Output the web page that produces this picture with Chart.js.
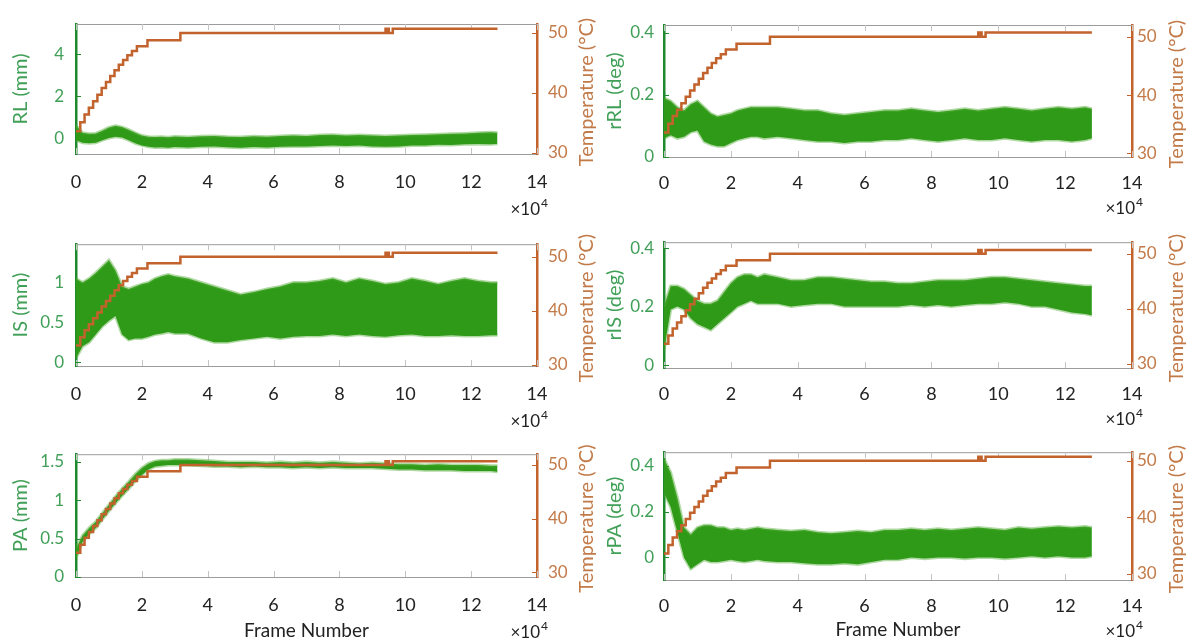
<!DOCTYPE html>
<html lang="en">
<head>
<meta charset="utf-8">
<title>Frame Number</title>
<script src="https://cdn.jsdelivr.net/npm/chart.js@4.4.1/dist/chart.umd.min.js"></script>
<style>
  html, body { margin: 0; padding: 0; background: #fff; }
  #lienzo { position: relative; width: 1192px; height: 642px; overflow: hidden; background: #fff; }
  .panel { position: absolute; }
</style>
</head>
<body>
<div id="lienzo"></div>
<script>
// ============================================================
//  Seis paneles: desplazamientos/rotaciones (verde, eje izq.)
//  contra la temperatura escalonada (naranja, eje der.).
//  Eje x en frames ×10^4.
// ============================================================

// --- Muestras del eje x (×10^4 frames) ---
const FRAMES = [
    0, 0.2, 0.4, 0.6, 0.8, 1.0, 1.2, 1.4, 1.6, 1.8,
    2.0, 2.2, 2.4, 2.6, 2.8, 3.0, 3.4, 3.8, 4.2, 4.6,
    5.0, 5.4, 5.8, 6.2, 6.6, 7.0, 7.4, 7.8, 8.2, 8.6,
    9.0, 9.4, 9.8, 10.2, 10.6, 11.0, 11.4, 11.8, 12.2, 12.6,
    12.8,
];

// --- Envolventes de cada señal (máximo / mínimo de la banda) ---
const RL_SUP = [
    0.60, 0.25, 0.20, 0.22, 0.35, 0.50, 0.58, 0.52, 0.40, 0.25,
    0.12, 0.06, 0.05, 0.06, 0.04, 0.07, 0.05, 0.08, 0.10, 0.06,
    0.05, 0.08, 0.06, 0.10, 0.12, 0.10, 0.14, 0.16, 0.12, 0.15,
    0.12, 0.10, 0.12, 0.15, 0.16, 0.18, 0.20, 0.22, 0.25, 0.28,
    0.25,
];
const RL_INF = [
    -0.10, -0.22, -0.25, -0.22, -0.10, 0.00, 0.06, 0.02, -0.10, -0.25,
    -0.35, -0.42, -0.45, -0.44, -0.46, -0.43, -0.45, -0.42, -0.40, -0.44,
    -0.46, -0.43, -0.45, -0.42, -0.40, -0.40, -0.38, -0.36, -0.38, -0.36,
    -0.40, -0.42, -0.40, -0.36, -0.35, -0.32, -0.33, -0.30, -0.28, -0.30,
    -0.27,
];

const RRL_SUP = [
    0.19, 0.18, 0.16, 0.15, 0.17, 0.18, 0.16, 0.14, 0.13, 0.135,
    0.14, 0.15, 0.155, 0.16, 0.16, 0.16, 0.16, 0.155, 0.15, 0.15,
    0.14, 0.135, 0.14, 0.145, 0.15, 0.15, 0.155, 0.15, 0.145, 0.15,
    0.155, 0.15, 0.155, 0.16, 0.155, 0.15, 0.155, 0.16, 0.155, 0.16,
    0.155,
];
const RRL_INF = [
    0.06, 0.07, 0.06, 0.065, 0.08, 0.085, 0.05, 0.04, 0.035, 0.035,
    0.045, 0.055, 0.06, 0.065, 0.065, 0.06, 0.065, 0.06, 0.055, 0.05,
    0.05, 0.045, 0.05, 0.05, 0.055, 0.055, 0.06, 0.055, 0.05, 0.055,
    0.06, 0.055, 0.055, 0.06, 0.055, 0.05, 0.055, 0.055, 0.05, 0.055,
    0.06,
];

const IS_SUP = [
    1.05, 1.00, 1.05, 1.12, 1.20, 1.28, 1.15, 0.95, 0.92, 0.95,
    0.98, 1.00, 1.05, 1.08, 1.10, 1.08, 1.05, 1.00, 0.95, 0.90,
    0.85, 0.88, 0.92, 0.95, 1.00, 1.00, 1.02, 1.05, 1.00, 1.05,
    1.02, 0.98, 1.00, 1.05, 1.02, 0.98, 1.02, 1.05, 1.02, 1.00,
    1.00,
];
const IS_INF = [
    0.05, 0.20, 0.25, 0.35, 0.45, 0.52, 0.58, 0.35, 0.28, 0.30,
    0.30, 0.32, 0.35, 0.36, 0.38, 0.36, 0.36, 0.30, 0.25, 0.25,
    0.28, 0.30, 0.32, 0.30, 0.32, 0.33, 0.33, 0.35, 0.33, 0.35,
    0.33, 0.32, 0.34, 0.35, 0.33, 0.33, 0.34, 0.33, 0.33, 0.34,
    0.34,
];

const RIS_SUP = [
    0.20, 0.27, 0.27, 0.26, 0.24, 0.22, 0.21, 0.21, 0.22, 0.25,
    0.28, 0.30, 0.31, 0.31, 0.30, 0.31, 0.30, 0.29, 0.29, 0.30,
    0.30, 0.295, 0.29, 0.285, 0.285, 0.28, 0.28, 0.285, 0.29, 0.29,
    0.29, 0.295, 0.30, 0.30, 0.295, 0.29, 0.285, 0.28, 0.275, 0.27,
    0.27,
];
const RIS_INF = [
    0.05, 0.19, 0.20, 0.19, 0.16, 0.14, 0.13, 0.12, 0.14, 0.16,
    0.18, 0.20, 0.21, 0.22, 0.21, 0.21, 0.21, 0.20, 0.205, 0.21,
    0.21, 0.20, 0.20, 0.20, 0.20, 0.20, 0.205, 0.20, 0.205, 0.20,
    0.205, 0.21, 0.21, 0.215, 0.21, 0.20, 0.20, 0.19, 0.18, 0.175,
    0.17,
];

const PA_SUP = [
    0.37, 0.54, 0.64, 0.72, 0.83, 0.94, 1.05, 1.15, 1.24, 1.34,
    1.42, 1.48, 1.51, 1.52, 1.52, 1.53, 1.53, 1.52, 1.51, 1.50,
    1.50, 1.50, 1.49, 1.50, 1.49, 1.50, 1.49, 1.50, 1.49, 1.48,
    1.49, 1.48, 1.47, 1.47, 1.46, 1.47, 1.46, 1.46, 1.46, 1.45,
    1.45,
];
const PA_INF = [
    0.25, 0.46, 0.56, 0.64, 0.75, 0.86, 0.96, 1.06, 1.15, 1.25,
    1.33, 1.40, 1.44, 1.45, 1.46, 1.46, 1.46, 1.45, 1.44, 1.44,
    1.43, 1.44, 1.43, 1.43, 1.42, 1.43, 1.42, 1.43, 1.42, 1.42,
    1.42, 1.41, 1.40, 1.40, 1.39, 1.39, 1.39, 1.38, 1.38, 1.38,
    1.37,
];

const RPA_SUP = [
    0.43, 0.37, 0.26, 0.13, 0.10, 0.13, 0.14, 0.14, 0.13, 0.13,
    0.12, 0.125, 0.12, 0.125, 0.13, 0.125, 0.12, 0.115, 0.12, 0.11,
    0.105, 0.11, 0.115, 0.11, 0.12, 0.12, 0.125, 0.12, 0.125, 0.12,
    0.125, 0.13, 0.125, 0.12, 0.13, 0.125, 0.13, 0.135, 0.13, 0.135,
    0.13,
];
const RPA_INF = [
    0.28, 0.22, 0.11, 0.00, -0.05, -0.03, -0.01, -0.02, -0.02, -0.015,
    -0.01, -0.015, -0.02, -0.015, -0.01, -0.015, -0.02, -0.02, -0.025, -0.03,
    -0.03, -0.025, -0.03, -0.02, -0.01, -0.01, 0.00, -0.005, 0.00, 0.00,
    -0.005, 0.00, 0.00, -0.005, 0.00, 0.005, 0.00, 0.005, 0.00, 0.00,
    0.005,
];

// --- Temperatura (escalones; mismo registro en los seis paneles) ---
const TEMP_FRAMES = [0, 0.13, 0.26, 0.39, 0.52, 0.65, 0.78, 0.91, 1.04, 1.17, 1.30, 1.43, 1.56, 1.70, 1.85, 2.17, 3.17, 9.40, 9.42, 9.48, 9.50, 9.62, 12.8];
const TEMP_C      = [33.6, 35.1, 36.4, 37.5, 38.6, 39.7, 40.8, 41.8, 42.8, 43.8, 44.7, 45.5, 46.3, 47.0, 47.8, 48.8, 50.0, 50.7, 50.0, 50.7, 50.0, 50.7, 50.7];

// --- Marcas de los ejes ---
const X_TICKS    = [0, 2, 4, 6, 8, 10, 12, 14];
const TEMP_TICKS = [30, 40, 50];
const RL_TICKS   = [0, 2, 4];
const DEG_TICKS  = [0, 0.2, 0.4];
const IS_TICKS   = [0, 0.5, 1];
const PA_TICKS   = [0, 0.5, 1, 1.5];

const VERDE_SENAL = '#2e9a18';
const VERDE_BORDE = 'rgba(80,170,50,0.45)';
const VERDE_EJE   = '#1f8a2c';
const VERDE_TEXTO = '#41a058';
const NARANJA     = '#c2622c';
const NARANJA_TXT = '#c27a48';
const GRIS        = '#9c9c9c';
const FUENTE      = 'Lato, "Open Sans", sans-serif';

Chart.defaults.font.family = FUENTE;

// Geometría de columnas y filas (px de la página)
const COLUMNAS = [
    { left: 0,   width: 600, plotL: 76,  plotR: 537,  padTitIzq: 9, distTitDer: 50, padTickIzq: 12, padTickDer: 11, padX: 17, despExp: 56 },
    { left: 596, width: 596, plotL: 664, plotR: 1132, padTitIzq: 7, distTitDer: 45, padTickIzq: 10, padTickDer: 5,  padX: 15, despExp: 52 },
];
const FILAS = [
    { top: 0,   height: 222, plotT: [24, 25],   plotB: [154, 157] },
    { top: 222, height: 210, plotT: [234, 237], plotB: [366, 368] },
    { top: 432, height: 210, plotT: [445, 448], plotB: [577, 580] },
];

const PANELES = [
    { fila: 0, col: 0, titulo: 'RL (mm)',   sup: RL_SUP,  inf: RL_INF,  ticks: RL_TICKS,  yMin: -0.76, yMax: 5.43,  tMin: 29.8, tMax: 51.5 },
    { fila: 0, col: 1, titulo: 'rRL (deg)', sup: RRL_SUP, inf: RRL_INF, ticks: DEG_TICKS, yMin: 0,     yMax: 0.425, tMin: 29.4, tMax: 52.0 },
    { fila: 1, col: 0, titulo: 'IS (mm)',   sup: IS_SUP,  inf: IS_INF,  ticks: IS_TICKS,  yMin: -0.046, yMax: 1.48, tMin: 29.8, tMax: 52.3 },
    { fila: 1, col: 1, titulo: 'rIS (deg)', sup: RIS_SUP, inf: RIS_INF, ticks: DEG_TICKS, yMin: -0.01, yMax: 0.42,  tMin: 29.2, tMax: 52.1 },
    { fila: 2, col: 0, titulo: 'PA (mm)',   sup: PA_SUP,  inf: PA_INF,  ticks: PA_TICKS,  yMin: 0,     yMax: 1.6,   tMin: 29.1, tMax: 52.0 },
    { fila: 2, col: 1, titulo: 'rPA (deg)', sup: RPA_SUP, inf: RPA_INF, ticks: DEG_TICKS, yMin: -0.098, yMax: 0.458, tMin: 28.9, tMax: 51.5 },
];

const puntos = (xs, ys) => xs.map((x, i) => ({ x, y: ys[i] }));
const fijarTicks = (valores) => (s) => { s.ticks = valores.map(v => ({ value: v })); };

// Marco superior, marcas hacia dentro, título del eje derecho (girado
// hacia arriba, como el izquierdo), "×10^4" y "Frame Number"
const marcoPanel = {
    id: 'marcoPanel',
    beforeDatasetsDraw(chart, args, opts) {
        const { ctx, chartArea: a, scales } = chart;
        ctx.save();
        ctx.lineWidth = 1;
        ctx.strokeStyle = GRIS;
        ctx.beginPath();
        ctx.moveTo(a.left, a.top + 0.5);
        ctx.lineTo(a.right, a.top + 0.5);
        ctx.stroke();

        ctx.strokeStyle = '#c4c4c4';
        X_TICKS.forEach(v => {
            const px = Math.round(scales.x.getPixelForValue(v)) + 0.5;
            ctx.beginPath();
            ctx.moveTo(px, a.bottom); ctx.lineTo(px, a.bottom - 6);
            ctx.moveTo(px, a.top);    ctx.lineTo(px, a.top + 6);
            ctx.stroke();
        });

        ctx.strokeStyle = VERDE_EJE;
        opts.ticksIzq.forEach(v => {
            const py = Math.round(scales.y.getPixelForValue(v)) + 0.5;
            ctx.beginPath(); ctx.moveTo(a.left, py); ctx.lineTo(a.left + 5, py); ctx.stroke();
        });
        ctx.strokeStyle = NARANJA;
        TEMP_TICKS.forEach(v => {
            const py = Math.round(scales.yT.getPixelForValue(v)) + 0.5;
            ctx.beginPath(); ctx.moveTo(a.right, py); ctx.lineTo(a.right - 5, py); ctx.stroke();
        });
        ctx.restore();
    },
    afterDraw(chart, args, opts) {
        const { ctx, chartArea: a } = chart;
        ctx.save();

        // Título del eje de temperatura
        ctx.save();
        ctx.translate(a.right + opts.distTitDer, (a.top + a.bottom) / 2 + 3);
        ctx.rotate(-Math.PI / 2);
        ctx.fillStyle = NARANJA_TXT;
        ctx.font = `20px ${FUENTE}`;
        ctx.textAlign = 'center';
        ctx.textBaseline = 'middle';
        ctx.fillText('Temperature (°C)', 0, 0);
        ctx.restore();

        ctx.fillStyle = '#222';
        ctx.textBaseline = 'middle';
        const yExp = a.bottom + opts.despExp;
        const xFin = a.right + 11;
        ctx.textAlign = 'right';
        ctx.font = `12px ${FUENTE}`;
        const ancho4 = ctx.measureText('4').width;
        ctx.fillText('4', xFin, yExp - 7);
        ctx.font = `17px ${FUENTE}`;
        ctx.fillText('×10', xFin - ancho4 - 1, yExp);

        if (opts.tituloX) {
            ctx.textAlign = 'center';
            ctx.font = `19px ${FUENTE}`;
            ctx.fillText(opts.tituloX, (a.left + a.right) / 2, yExp - 2);
        }
        ctx.restore();
    },
};

function crearPanel(p) {
    const col = COLUMNAS[p.col];
    const fila = FILAS[p.fila];
    const plotT = fila.plotT[p.col];
    const plotB = fila.plotB[p.col];

    const div = document.createElement('div');
    div.className = 'panel';
    div.style.left = col.left + 'px';
    div.style.top = fila.top + 'px';
    div.style.width = col.width + 'px';
    div.style.height = fila.height + 'px';
    const canvas = document.createElement('canvas');
    div.appendChild(canvas);
    document.getElementById('lienzo').appendChild(div);

    new Chart(canvas, {
        type: 'line',
        data: {
            datasets: [
                {
                    // 'before': mantiene el valor anterior hasta el siguiente frame
                    label: 'Temperature',
                    data: puntos(TEMP_FRAMES, TEMP_C),
                    yAxisID: 'yT',
                    borderColor: NARANJA,
                    borderWidth: 2.5,
                    stepped: 'before',
                    pointRadius: 0,
                    fill: false,
                },
                {
                    label: p.titulo,
                    data: puntos(FRAMES, p.sup),
                    yAxisID: 'y',
                    borderColor: VERDE_BORDE,
                    borderWidth: 3,
                    backgroundColor: VERDE_SENAL,
                    pointRadius: 0,
                    fill: '+1',
                },
                {
                    label: p.titulo + ' min',
                    data: puntos(FRAMES, p.inf),
                    yAxisID: 'y',
                    borderColor: VERDE_BORDE,
                    borderWidth: 3,
                    pointRadius: 0,
                    fill: false,
                },
            ],
        },
        options: {
            animation: false,
            responsive: true,
            maintainAspectRatio: false,
            layout: { padding: { top: plotT - fila.top, left: 0, right: 0, bottom: 0 } },
            plugins: {
                legend: { display: false },
                tooltip: { enabled: false },
                marcoPanel: {
                    ticksIzq: p.ticks,
                    despExp: col.despExp,
                    distTitDer: col.distTitDer,
                    tituloX: p.fila === 2 ? 'Frame Number' : null,
                },
            },
            scales: {
                x: {
                    type: 'linear',
                    min: 0,
                    max: 14,
                    bounds: 'data',
                    grid: { display: false, drawTicks: false },
                    border: { color: GRIS, width: 1 },
                    ticks: { padding: col.padX, color: '#222', font: { size: 18 }, callback: v => String(v), maxRotation: 0 },
                    afterBuildTicks: fijarTicks(X_TICKS),
                    afterFit: s => { s.height = fila.top + fila.height - plotB; },
                },
                y: {
                    position: 'left',
                    min: p.yMin,
                    max: p.yMax,
                    bounds: 'data',
                    grid: { display: false, drawTicks: false },
                    border: { color: VERDE_EJE, width: 2.5 },
                    ticks: { padding: col.padTickIzq, color: VERDE_TEXTO, font: { size: 17 }, callback: v => String(v) },
                    afterBuildTicks: fijarTicks(p.ticks),
                    afterFit: s => { s.width = col.plotL - col.left; },
                    title: {
                        display: true,
                        text: p.titulo,
                        color: VERDE_TEXTO,
                        font: { size: 20 },
                        padding: { top: col.padTitIzq, bottom: 0 },
                    },
                },
                yT: {
                    position: 'right',
                    min: p.tMin,
                    max: p.tMax,
                    bounds: 'data',
                    grid: { display: false, drawTicks: false },
                    border: { color: NARANJA, width: 2.5 },
                    ticks: { padding: col.padTickDer, color: NARANJA_TXT, font: { size: 17 }, callback: v => String(v) },
                    afterBuildTicks: fijarTicks(TEMP_TICKS),
                    afterFit: s => { s.width = col.left + col.width - col.plotR; },
                },
            },
        },
        plugins: [marcoPanel],
    });
}

PANELES.forEach(crearPanel);
</script>
</body>
</html>
